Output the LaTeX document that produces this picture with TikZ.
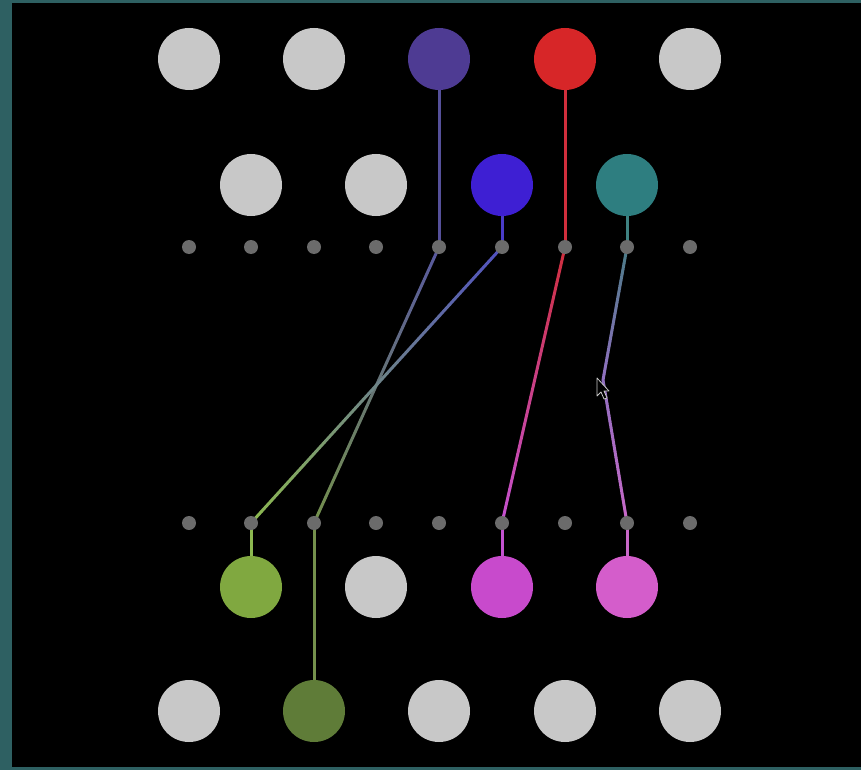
\documentclass[tikz,border=0pt]{standalone}
\usetikzlibrary{calc,backgrounds}
\definecolor{bord}{HTML}{2E6062}
\definecolor{grey}{HTML}{C8C8C8}
\definecolor{dotc}{HTML}{6B6B6B}
\definecolor{cpurple}{HTML}{4E3B93}
\definecolor{cred}{HTML}{D72628}
\definecolor{cblue}{HTML}{3E1FD3}
\definecolor{cteal}{HTML}{2E7E80}
\definecolor{cgreen}{HTML}{80A840}
\definecolor{cmag}{HTML}{C84ACC}
\definecolor{cpink}{HTML}{D45DCB}
\definecolor{colive}{HTML}{5F7C38}
% line colours
\definecolor{lpurple}{HTML}{55509A}
\definecolor{lpurpleA}{HTML}{5858A0}
\definecolor{lolive}{HTML}{74904C}
\definecolor{lblue}{HTML}{4A3CC8}
\definecolor{lblueA}{HTML}{5050C0}
\definecolor{lgreen}{HTML}{8CB850}
\definecolor{lred}{HTML}{D02E3C}
\definecolor{lmag}{HTML}{C452D0}
\definecolor{ltealA}{HTML}{4A7C86}
\definecolor{ltealv}{HTML}{3F8282}
\definecolor{lmid}{HTML}{9070C0}
\definecolor{lpink}{HTML}{C868C8}
\newcommand{\gradseg}[4]{%
  \foreach \i in {0,...,23}{%
    \pgfmathsetmacro{\pa}{\i/24}%
    \pgfmathsetmacro{\pb}{(\i+1)/24}%
    \pgfmathsetmacro{\pc}{100*(\i+0.5)/24}%
    \draw[wire,color=#4!\pc!#3] ($(#1)!\pa!(#2)$) -- ($(#1)!\pb!(#2)$);
  }%
}
\begin{document}
\begin{tikzpicture}[x=1pt,y=-1pt,
  big/.style={circle,minimum size=62pt,inner sep=0pt,draw=none},
  dotn/.style={circle,minimum size=14pt,inner sep=0pt,fill=dotc,draw=none},
  wire/.style={line width=3pt,line cap=round}]
\useasboundingbox (0,0) rectangle (861,770);
\begin{scope}[on background layer]
\fill[bord] (0,0) rectangle (861,770);
\fill[black] (12,3) rectangle (861,767);
\end{scope}
% top row
\node[big,fill=grey] (t1) at (189,59) {};
\node[big,fill=grey] (t2) at (314,59) {};
\node[big,fill=cpurple] (t3) at (439,59) {};
\node[big,fill=cred] (t4) at (565,59) {};
\node[big,fill=grey] (t5) at (690,59) {};
% second row
\node[big,fill=grey] (s1) at (251,185) {};
\node[big,fill=grey] (s2) at (376,185) {};
\node[big,fill=cblue] (s3) at (502,185) {};
\node[big,fill=cteal] (s4) at (627,185) {};
% dots rows
\foreach \k/\x in {1/189,2/251,3/314,4/376,5/439,6/502,7/565,8/627,9/690}{
  \node[dotn] (u\k) at (\x,247) {};
  \node[dotn] (l\k) at (\x,523) {};
}
% fourth row
\node[big,fill=cgreen] (f1) at (251,587) {};
\node[big,fill=grey] (f2) at (376,587) {};
\node[big,fill=cmag] (f3) at (502,587) {};
\node[big,fill=cpink] (f4) at (627,587) {};
% bottom row
\node[big,fill=grey] (b1) at (189,711) {};
\node[big,fill=colive] (b2) at (314,711) {};
\node[big,fill=grey] (b3) at (439,711) {};
\node[big,fill=grey] (b4) at (565,711) {};
\node[big,fill=grey] (b5) at (690,711) {};
\coordinate (bend) at (603,380);
\begin{scope}[on background layer]
  % purple -> olive
  \draw[wire,lpurple] (t3.center) -- (u5.center);
  \gradseg{u5.center}{l3.center}{lpurpleA}{lolive}
  \draw[wire,lolive] (l3.center) -- (b2.center);
  % blue -> green
  \draw[wire,lblue] (s3.center) -- (u6.center);
  \gradseg{u6.center}{l2.center}{lblueA}{lgreen}
  \draw[wire,lgreen] (l2.center) -- (f1.center);
  % red -> magenta
  \draw[wire,lred] (t4.center) -- (u7.center);
  \gradseg{u7.center}{l6.center}{lred}{lmag}
  \draw[wire,lmag] (l6.center) -- (f3.center);
  % teal -> pink
  \draw[wire,ltealv] (s4.center) -- (u8.center);
  \gradseg{u8.center}{bend}{ltealA}{lmid}
  \gradseg{bend}{l8.center}{lmid}{lpink}
  \draw[wire,lpink] (l8.center) -- (f4.center);
\end{scope}
% mouse cursor
\draw[fill=black,draw=grey,line width=0.8pt,line join=round]
  (597,378) -- (597,396) -- (601,392) -- (604,399) -- (607,398) -- (604,391) -- (609,391) -- cycle;
\end{tikzpicture}
\end{document}
